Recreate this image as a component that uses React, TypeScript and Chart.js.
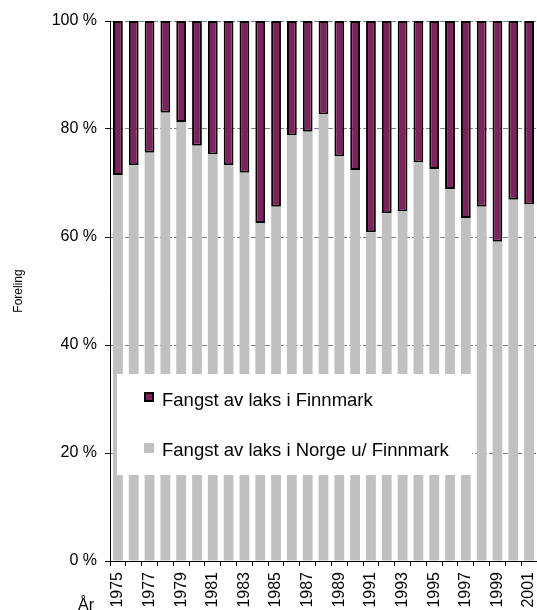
import React, { useEffect, useRef } from "react";
import { Chart, registerables } from "chart.js";

Chart.register(...registerables);

const years = [
  "1975","1976","1977","1978","1979","1980","1981","1982","1983","1984",
  "1985","1986","1987","1988","1989","1990","1991","1992","1993","1994",
  "1995","1996","1997","1998","1999","2000","2001",
];
const norgeUtenFinnmark = [
  71.5, 73.3, 75.6, 83.0, 81.3, 76.9, 75.3, 73.3, 71.9, 62.6,
  65.6, 78.8, 79.5, 82.7, 74.9, 72.4, 60.9, 64.4, 64.7, 73.8,
  72.6, 68.9, 63.5, 65.6, 59.1, 66.9, 66.0,
];
const finnmark = [
  28.5, 26.7, 24.4, 17.0, 18.7, 23.1, 24.7, 26.7, 28.1, 37.4,
  34.4, 21.2, 20.5, 17.3, 25.1, 27.6, 39.1, 35.6, 35.3, 26.2,
  27.4, 31.1, 36.5, 34.4, 40.9, 33.1, 34.0,
];
const seriesNames = ["Fangst av laks i Finnmark", "Fangst av laks i Norge u/ Finnmark"];
const yTicks = [0, 20, 40, 60, 80, 100];

const PURPLE = "#80205f";
const GRAY = "#c0c0c0";
const FONT = "'Liberation Sans', Arial, sans-serif";

const legendPlugin = {
  id: "insideLegend",
  afterDatasetsDraw(chart: any) {
    const { ctx, chartArea } = chart;
    const x0 = chartArea.left + 7;
    const y0 = chartArea.top + 353;
    ctx.save();
    ctx.fillStyle = "#ffffff";
    ctx.fillRect(x0, y0, 355, 101);
    ctx.font = `18.5px ${FONT}`;
    ctx.textBaseline = "alphabetic";
    ctx.textAlign = "left";
    // item 1
    ctx.fillStyle = PURPLE;
    ctx.fillRect(x0 + 27, y0 + 18, 10, 10);
    ctx.strokeStyle = "#000";
    ctx.lineWidth = 2;
    ctx.strokeRect(x0 + 28, y0 + 19, 8, 8);
    ctx.fillStyle = "#000";
    ctx.fillText(seriesNames[0], x0 + 45, y0 + 32);
    // item 2
    ctx.fillStyle = GRAY;
    ctx.fillRect(x0 + 27, y0 + 69, 10, 10);
    ctx.fillStyle = "#000";
    ctx.fillText(seriesNames[1], x0 + 45, y0 + 82);
    // axis word "År"
    ctx.font = `16px ${FONT}`;
    ctx.fillText("År", 78, 610);
    ctx.restore();
  },
};

export default function App() {
  const ref = useRef<HTMLCanvasElement>(null);
  useEffect(() => {
    if (!ref.current) return;
    const chart = new Chart(ref.current, {
      type: "bar",
      data: {
        labels: years,
        datasets: [
          {
            label: seriesNames[1],
            data: norgeUtenFinnmark,
            backgroundColor: GRAY,
            borderWidth: 0,
            barPercentage: 0.62,
            categoryPercentage: 1,
          },
          {
            label: seriesNames[0],
            data: finnmark,
            backgroundColor: PURPLE,
            borderColor: "#000",
            borderWidth: 2,
            borderSkipped: false,
            barPercentage: 0.62,
            categoryPercentage: 1,
          },
        ],
      },
      options: {
        responsive: false,
        animation: false,
        layout: { padding: { top: 21, right: 0, left: 0, bottom: 0 } },
        plugins: { legend: { display: false }, tooltip: { enabled: false } },
        scales: {
          x: {
            stacked: true,
            afterFit: (s: any) => { s.height = 49; s.paddingRight = 0; },
            grid: { display: true, drawOnChartArea: false, drawTicks: true, tickLength: 5, color: "#000", offset: true },
            border: { display: true, color: "#000", width: 1 },
            ticks: {
              autoSkip: false,
              minRotation: 90,
              maxRotation: 90,
              padding: 6,
              color: "#000",
              font: { family: FONT, size: 16 },
              callback: (_v: any, i: number) => (i % 2 === 0 ? years[i] : ""),
            },
          },
          y: {
            stacked: true,
            min: 0,
            max: 100,
            afterFit: (s: any) => { s.width = 110; },
            afterBuildTicks: (s: any) => { s.ticks = yTicks.map((v) => ({ value: v })); },
            grid: { color: "#808080", tickColor: "#000", tickLength: 5, lineWidth: 1 },
            border: { display: true, color: "#000", width: 1, dash: [5, 2] },
            ticks: {
              padding: 8,
              color: "#000",
              font: { family: FONT, size: 16 },
              callback: (v: any) => `${v} %`,
            },
            title: {
              display: true,
              text: "Foreling",
              color: "#000",
              font: { family: FONT, size: 12 },
              padding: { top: 11, bottom: 0 },
            },
          },
        },
      },
      plugins: [legendPlugin],
    });
    return () => chart.destroy();
  }, []);
  return (
    <div style={{ position: "absolute", left: 0, top: 0 }}>
      <canvas ref={ref} width={537} height={610} />
    </div>
  );
}
